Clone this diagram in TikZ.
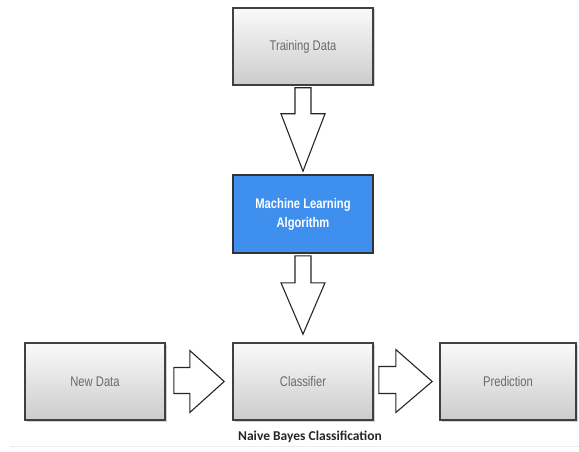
\documentclass[tikz,border=0pt]{standalone}
\usepackage{fontspec}
\setmainfont{Liberation Sans}
\newfontfamily\capfont{Carlito}
\usetikzlibrary{shadows,calc}
\definecolor{mlblue}{HTML}{3F8FEF}
\definecolor{txtgray}{HTML}{6A6A6A}
\tikzset{
  x=1pt,y=-1pt,
  graybox/.style={draw=black!75,line width=1.6pt,top color=white!96!gray,bottom color=gray!40,
    minimum width=140pt,minimum height=77pt,inner sep=0pt,
    drop shadow={shadow xshift=1.5pt,shadow yshift=-1.5pt,opacity=0.35},
    font=\fontsize{14}{16}\selectfont,text=txtgray},
  bluebox/.style={draw=black!80,line width=1.6pt,fill=mlblue,text=white,
    minimum width=140pt,minimum height=78pt,inner sep=0pt,
    font=\bfseries\fontsize{14}{19}\selectfont,align=center},
  blockarrow/.style={draw=black!85,line width=1.1pt,fill=white,line join=miter},
}
\begin{document}
\begin{tikzpicture}
\useasboundingbox (0,0) rectangle (579,452);
\fill[white] (0,0) rectangle (579,452);
\draw[gray!15,line width=0.8pt] (10,446) -- (579,446);
% boxes
\node[graybox] (train) at (303,46.5) {\scalebox{0.8}[1]{Training Data}};
\node[bluebox] (ml) at (303,214) {\scalebox{0.8}[1]{Machine Learning}\\\scalebox{0.8}[1]{Algorithm}};
\node[graybox] (new) at (95,381.5) {\scalebox{0.8}[1]{New Data}};
\node[graybox] (cls) at (303,381.5) {\scalebox{0.8}[1]{Classifier}};
\node[graybox,minimum width=136pt] (pred) at (508,381.5) {\scalebox{0.8}[1]{Prediction}};
% block arrows
\draw[blockarrow] ($(train.south)+(-8,2)$) -- ($(train.south)+(8,2)$) -- ($(train.south)+(8,28)$) -- ($(train.south)+(22,28)$)
  -- ($(ml.north)+(0,-3)$) -- ($(train.south)+(-22,28)$) -- ($(train.south)+(-8,28)$) -- cycle;
\draw[blockarrow] ($(ml.south)+(-8,2)$) -- ($(ml.south)+(8,2)$) -- ($(ml.south)+(8,29)$) -- ($(ml.south)+(22,29)$)
  -- ($(cls.north)+(0,-8)$) -- ($(ml.south)+(-22,29)$) -- ($(ml.south)+(-8,29)$) -- cycle;
\draw[blockarrow] ($(new.east)+(8,-14)$) -- ($(new.east)+(24,-14)$) -- ($(new.east)+(24,-31)$) -- ($(cls.west)+(-8,0)$)
  -- ($(new.east)+(24,31)$) -- ($(new.east)+(24,12)$) -- ($(new.east)+(8,12)$) -- cycle;
\draw[blockarrow] ($(cls.east)+(5,-15)$) -- ($(cls.east)+(22,-15)$) -- ($(cls.east)+(22,-32)$) -- ($(pred.west)+(-7,0)$)
  -- ($(cls.east)+(22,31)$) -- ($(cls.east)+(22,12)$) -- ($(cls.east)+(5,12)$) -- cycle;
% caption
\node[font=\capfont\bfseries\fontsize{13.5}{15}\selectfont,text=black!85] (cap) at (310,437) {Naive Bayes Classification};
\end{tikzpicture}
\end{document}
